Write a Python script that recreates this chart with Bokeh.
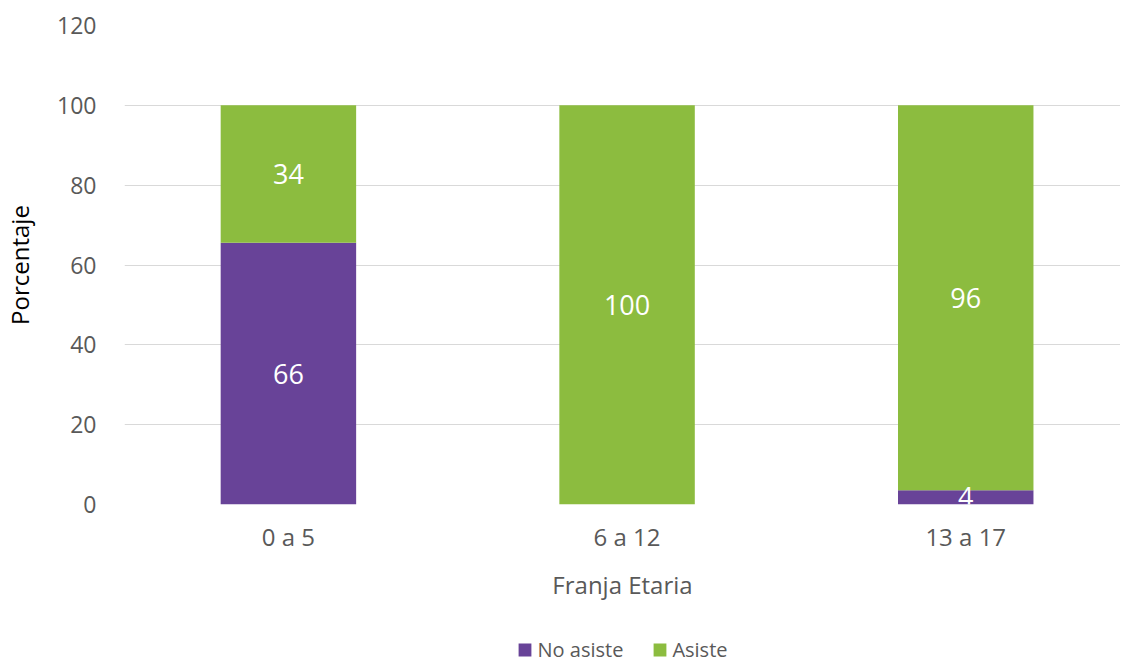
from bokeh.plotting import figure
from bokeh.layouts import column
from bokeh.models import ColumnDataSource, Range1d, FixedTicker, Legend, LegendItem
from bokeh.embed import file_html
from bokeh.resources import INLINE
from bokeh.core.properties import value

categories = ["0 a 5", "6 a 12", "13 a 17"]
no_asiste = [65.6, 0.0, 3.6]
asiste = [34.4, 100.0, 96.4]
y_ticks = [0, 20, 40, 60, 80, 100, 120]
series_names = ["No asiste", "Asiste"]
colors = ["#684398", "#8CBC3F"]

FONT = "Open Sans"
TXT = "#595959"

xs = [i + 0.5 for i in range(len(categories))]

p = figure(width=1120, height=636, output_backend="svg", toolbar_location=None,
           x_range=Range1d(0.016, 2.957), y_range=Range1d(0, 120),
           min_border_left=118, min_border_right=0, min_border_top=25, min_border_bottom=132)
p.outline_line_color = None
p.background_fill_color = "white"

src = ColumnDataSource(dict(x=xs,
                            na_top=no_asiste,
                            a_bot=no_asiste,
                            a_top=[n + a for n, a in zip(no_asiste, asiste)]))
r1 = p.vbar(x="x", width=0.4, bottom=0, top="na_top", source=src,
            fill_color=colors[0], line_color=None)
r2 = p.vbar(x="x", width=0.4, bottom="a_bot", top="a_top", source=src,
            fill_color=colors[1], line_color=None)

# data labels
lx, ly, lt = [], [], []
for x, n, a in zip(xs, no_asiste, asiste):
    if n > 0:
        lx.append(x); ly.append(n / 2); lt.append(str(int(round(n))))
    if a > 0:
        lx.append(x); ly.append(n + a / 2); lt.append(str(int(round(a))))
lsrc = ColumnDataSource(dict(x=lx, y=ly, t=lt))
p.text(x="x", y="y", text="t", source=lsrc, text_color="white",
       text_font=value(FONT), text_font_size="27px",
       text_align="center", text_baseline="middle")

# axes
p.xaxis.ticker = FixedTicker(ticks=xs)
p.xaxis.major_label_overrides = {x: c for x, c in zip(xs, categories)}
p.xaxis.axis_line_color = None
p.xaxis.major_tick_line_color = None
p.xaxis.minor_tick_line_color = None
p.xaxis.major_label_text_font = FONT
p.xaxis.major_label_text_font_size = "24px"
p.xaxis.major_label_text_color = TXT
p.xaxis.major_label_standoff = 9
p.xaxis.axis_label = "Franja Etaria"
p.xaxis.axis_label_text_font = FONT
p.xaxis.axis_label_text_font_size = "24px"
p.xaxis.axis_label_text_font_style = "normal"
p.xaxis.axis_label_text_color = TXT
p.xaxis.axis_label_standoff = 12

p.yaxis.ticker = FixedTicker(ticks=y_ticks)
p.yaxis.axis_line_color = None
p.yaxis.major_tick_line_color = None
p.yaxis.minor_tick_line_color = None
p.yaxis.major_label_text_font = FONT
p.yaxis.major_label_text_font_size = "23px"
p.yaxis.major_label_text_color = TXT
p.yaxis.major_label_standoff = 22
p.yaxis.axis_label = "Porcentaje"
p.yaxis.axis_label_text_font = FONT
p.yaxis.axis_label_text_font_size = "24px"
p.yaxis.axis_label_text_font_style = "normal"
p.yaxis.axis_label_text_color = "#000000"
p.yaxis.axis_label_standoff = 18

p.xgrid.grid_line_color = None
p.ygrid.ticker = FixedTicker(ticks=y_ticks)
p.ygrid.grid_line_color = "#D9D9D9"
p.ygrid.grid_line_width = 1

# legend strip below the chart (its own renderers sit outside its visible range)
p2 = figure(width=1120, height=26, output_backend="svg", toolbar_location=None,
            x_range=Range1d(1000, 1001), y_range=Range1d(1000, 1001),
            min_border_left=118, min_border_right=0, min_border_top=0, min_border_bottom=0)
p2.axis.visible = False
p2.grid.visible = False
p2.outline_line_color = None
q1 = p2.vbar(x="x", width=0.4, bottom=0, top="na_top", source=src,
             fill_color=colors[0], line_color=None)
q2 = p2.vbar(x="x", width=0.4, bottom="a_bot", top="a_top", source=src,
             fill_color=colors[1], line_color=None)
legend = Legend(items=[LegendItem(label=series_names[0], renderers=[q1]),
                       LegendItem(label=series_names[1], renderers=[q2])],
                orientation="horizontal", location="center",
                label_text_font=FONT, label_text_font_size="20px",
                label_text_color=TXT, glyph_width=16, glyph_height=16,
                label_height=18, label_standoff=5, spacing=28, padding=1, margin=0,
                border_line_color=None, background_fill_alpha=0)
p2.add_layout(legend, "center")

layout = column(p, p2, spacing=0)
open("out.html", "w").write(file_html(layout, INLINE))
